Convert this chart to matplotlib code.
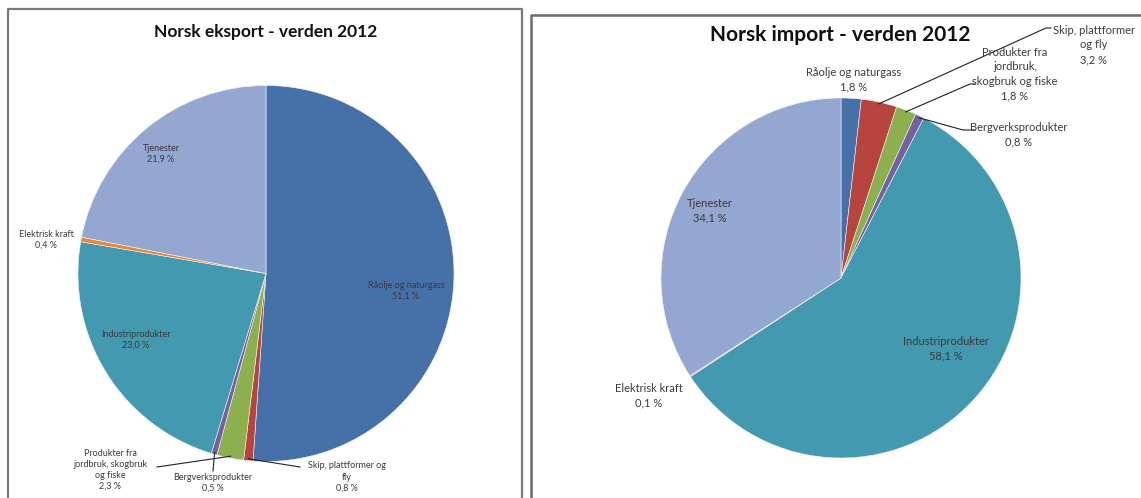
import numpy as np
import matplotlib.pyplot as plt

plt.rcParams['font.family'] = ['Lato', 'DejaVu Sans']

W, H = 1141, 498

# data (share of total, %)
categories = ["Råolje og naturgass", "Skip, plattformer og fly",
              "Produkter fra jordbruk, skogbruk og fiske", "Bergverksprodukter",
              "Industriprodukter", "Elektrisk kraft", "Tjenester"]
export_share = [51.1, 0.8, 2.3, 0.5, 23.0, 0.4, 21.9]
import_share = [1.8, 3.2, 1.8, 0.8, 58.1, 0.1, 34.1]

# label text as wrapped in each chart
export_labels = ["Råolje og naturgass", "Skip, plattformer og\nfly",
                 "Produkter fra\njordbruk, skogbruk\nog fiske", "Bergverksprodukter",
                 "Industriprodukter", "Elektrisk kraft", "Tjenester"]
import_labels = ["Råolje og naturgass", "Skip, plattformer\nog fly",
                 "Produkter fra\njordbruk,\nskogbruk og fiske", "Bergverksprodukter",
                 "Industriprodukter", "Elektrisk kraft", "Tjenester"]

colors = ["#4571A8", "#B8443F", "#8DB04F", "#7660A0", "#4399B0", "#E8863A", "#94A7D0"]

fig = plt.figure(figsize=(W / 100, H / 100), dpi=100)

# frame / border layer in pixel coordinates
bg = fig.add_axes([0, 0, 1, 1], zorder=0)
bg.set_xlim(0, W)
bg.set_ylim(H, 0)
bg.axis('off')
bg.plot([8, 8, 522, 522], [H, 9, 9, H], color='#7a7a7a', lw=1.6)
bg.plot([531, 531, W + 5], [H, 15, 15], color='#6a6a6a', lw=1.8)
bg.text(266, 32, "Norsk eksport - verden 2012", ha='center', va='center',
        fontsize=12.5, fontweight='bold', color='#111111')
bg.text(840, 35, "Norsk import - verden 2012", ha='center', va='center',
        fontsize=15, fontweight='bold', color='#111111')


def fmt(v):
    return f"{v:.1f}".replace('.', ',') + " %"


def draw_pie(cx, cy, r, values, labels, label_px, leaders, fs, ls):
    ax = fig.add_axes([(cx - r) / W, (H - cy - r) / H, 2 * r / W, 2 * r / H], zorder=1)
    wedges, _ = ax.pie(values, colors=colors, startangle=90, counterclock=False,
                       radius=1, wedgeprops=dict(linewidth=0.4, edgecolor='#f4f4f4'))
    ax.set_xlim(-1, 1)
    ax.set_ylim(-1, 1)
    ax.set_aspect('auto')
    ax.axis('off')

    def to_data(px, py):
        return (px - cx) / r, (cy - py) / r

    for i, (lab, v) in enumerate(zip(labels, values)):
        x, y = to_data(*label_px[i])
        ax.text(x, y, f"{lab}\n{fmt(v)}", ha='center', va='center', fontsize=fs,
                color='#3a3a3a', linespacing=ls, clip_on=False)

    for i, pts in leaders.items():
        w = wedges[i]
        mid = np.deg2rad((w.theta1 + w.theta2) / 2)
        xs = [np.cos(mid) * 0.99]
        ys = [np.sin(mid) * 0.99]
        for p in pts:
            x, y = to_data(*p)
            xs.append(x)
            ys.append(y)
        ax.plot(xs, ys, color='#222222', lw=0.8, clip_on=False)
    return ax


# export chart
draw_pie(266, 273.5, 188, export_share, export_labels,
         [(406, 291), (347, 477), (110, 470), (213, 483), (136, 340), (46, 240), (161, 154)],
         {1: [(300, 467)], 2: [(157, 467)], 3: [(213, 471)]},
         fs=6.5, ls=1.3)

# import chart
draw_pie(841, 278, 180, import_share, import_labels,
         [(854, 80), (1094, 45), (1015, 74), (1019, 135), (946, 349), (649, 396), (710, 211)],
         {1: [(1046, 28), (1051, 28)], 2: [(970, 84), (975, 84)], 3: [(963, 130), (975, 130)]},
         fs=8, ls=1.4)

fig.savefig("out.png", dpi=100)
